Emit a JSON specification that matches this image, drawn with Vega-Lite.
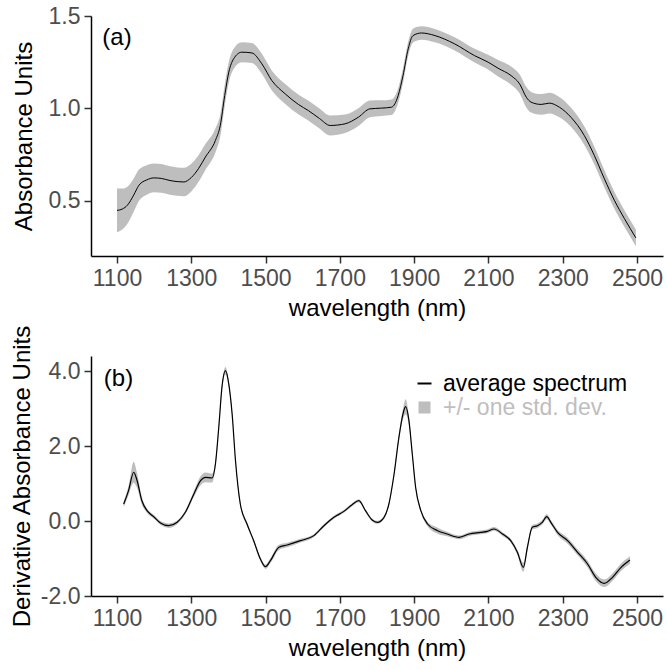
{
  "$schema": "https://vega.github.io/schema/vega-lite/v6.json",
  "padding": {"left": 10, "top": 5, "right": 2, "bottom": 2},
  "background": "white",
  "spacing": 4,
  "config": {
    "view": {"stroke": null},
    "font": "Liberation Sans",
    "axis": {
      "grid": false,
      "domainColor": "black",
      "domainWidth": 1.5,
      "tickColor": "#333333",
      "tickWidth": 1.5,
      "tickSize": 7,
      "labelFont": "Liberation Sans",
      "labelFontSize": 23,
      "labelColor": "#4d4d4d",
      "labelPadding": 4,
      "titleFont": "Liberation Sans",
      "titleFontSize": 24,
      "titleFontWeight": "normal",
      "titleColor": "black"
    }
  },
  "resolve": {"scale": {"color": "independent"}, "legend": {"color": "independent"}},
  "vconcat": [
    {
      "width": 572,
      "height": 240,
      "data": {"values": [
        {"wl": 1100, "mean": 0.447, "lo": 0.329, "hi": 0.565},
        {"wl": 1115, "mean": 0.455, "lo": 0.345, "hi": 0.565},
        {"wl": 1128, "mean": 0.475, "lo": 0.375, "hi": 0.575},
        {"wl": 1145, "mean": 0.530, "lo": 0.440, "hi": 0.620},
        {"wl": 1159, "mean": 0.583, "lo": 0.498, "hi": 0.668},
        {"wl": 1180, "mean": 0.612, "lo": 0.532, "hi": 0.692},
        {"wl": 1199, "mean": 0.623, "lo": 0.545, "hi": 0.701},
        {"wl": 1220, "mean": 0.620, "lo": 0.542, "hi": 0.698},
        {"wl": 1240, "mean": 0.610, "lo": 0.533, "hi": 0.687},
        {"wl": 1262, "mean": 0.603, "lo": 0.526, "hi": 0.680},
        {"wl": 1280, "mean": 0.601, "lo": 0.524, "hi": 0.678},
        {"wl": 1300, "mean": 0.625, "lo": 0.550, "hi": 0.700},
        {"wl": 1320, "mean": 0.675, "lo": 0.603, "hi": 0.747},
        {"wl": 1338, "mean": 0.736, "lo": 0.666, "hi": 0.806},
        {"wl": 1365, "mean": 0.826, "lo": 0.761, "hi": 0.891},
        {"wl": 1378, "mean": 0.907, "lo": 0.847, "hi": 0.967},
        {"wl": 1390, "mean": 1.069, "lo": 1.011, "hi": 1.127},
        {"wl": 1401, "mean": 1.196, "lo": 1.140, "hi": 1.252},
        {"wl": 1414, "mean": 1.268, "lo": 1.213, "hi": 1.323},
        {"wl": 1436, "mean": 1.304, "lo": 1.250, "hi": 1.358},
        {"wl": 1463, "mean": 1.300, "lo": 1.246, "hi": 1.354},
        {"wl": 1490, "mean": 1.241, "lo": 1.187, "hi": 1.295},
        {"wl": 1517, "mean": 1.150, "lo": 1.096, "hi": 1.204},
        {"wl": 1553, "mean": 1.078, "lo": 1.024, "hi": 1.132},
        {"wl": 1589, "mean": 1.020, "lo": 0.966, "hi": 1.074},
        {"wl": 1615, "mean": 0.988, "lo": 0.934, "hi": 1.042},
        {"wl": 1645, "mean": 0.945, "lo": 0.891, "hi": 0.999},
        {"wl": 1674, "mean": 0.907, "lo": 0.853, "hi": 0.961},
        {"wl": 1714, "mean": 0.916, "lo": 0.866, "hi": 0.966},
        {"wl": 1750, "mean": 0.952, "lo": 0.904, "hi": 1.000},
        {"wl": 1781, "mean": 0.997, "lo": 0.952, "hi": 1.042},
        {"wl": 1812, "mean": 1.001, "lo": 0.959, "hi": 1.043},
        {"wl": 1839, "mean": 1.006, "lo": 0.964, "hi": 1.048},
        {"wl": 1857, "mean": 1.069, "lo": 1.029, "hi": 1.109},
        {"wl": 1870, "mean": 1.177, "lo": 1.137, "hi": 1.217},
        {"wl": 1884, "mean": 1.322, "lo": 1.284, "hi": 1.360},
        {"wl": 1897, "mean": 1.394, "lo": 1.357, "hi": 1.431},
        {"wl": 1920, "mean": 1.408, "lo": 1.372, "hi": 1.444},
        {"wl": 1956, "mean": 1.394, "lo": 1.358, "hi": 1.430},
        {"wl": 2009, "mean": 1.349, "lo": 1.313, "hi": 1.385},
        {"wl": 2063, "mean": 1.285, "lo": 1.248, "hi": 1.322},
        {"wl": 2099, "mean": 1.250, "lo": 1.210, "hi": 1.290},
        {"wl": 2126, "mean": 1.217, "lo": 1.172, "hi": 1.262},
        {"wl": 2161, "mean": 1.177, "lo": 1.127, "hi": 1.227},
        {"wl": 2184, "mean": 1.132, "lo": 1.080, "hi": 1.184},
        {"wl": 2202, "mean": 1.060, "lo": 1.005, "hi": 1.115},
        {"wl": 2215, "mean": 1.033, "lo": 0.977, "hi": 1.089},
        {"wl": 2242, "mean": 1.021, "lo": 0.965, "hi": 1.077},
        {"wl": 2264, "mean": 1.028, "lo": 0.972, "hi": 1.084},
        {"wl": 2291, "mean": 1.006, "lo": 0.951, "hi": 1.061},
        {"wl": 2322, "mean": 0.952, "lo": 0.900, "hi": 1.004},
        {"wl": 2358, "mean": 0.853, "lo": 0.803, "hi": 0.903},
        {"wl": 2385, "mean": 0.745, "lo": 0.697, "hi": 0.793},
        {"wl": 2412, "mean": 0.619, "lo": 0.572, "hi": 0.666},
        {"wl": 2439, "mean": 0.502, "lo": 0.456, "hi": 0.548},
        {"wl": 2466, "mean": 0.403, "lo": 0.358, "hi": 0.448},
        {"wl": 2497, "mean": 0.298, "lo": 0.253, "hi": 0.343}
      ]},
      "encoding": {
        "x": {"field": "wl", "type": "quantitative",
              "scale": {"domain": [1030, 2570], "nice": false, "zero": false},
              "axis": {"values": [1100, 1300, 1500, 1700, 1900, 2100, 2300, 2500], "format": "d", "title": "wavelength (nm)", "titlePadding": 6}}
      },
      "layer": [
        {
          "mark": {"type": "area", "color": "#bebebe", "interpolate": "monotone"},
          "encoding": {
            "y": {"field": "lo", "type": "quantitative",
                  "scale": {"domain": [0.2, 1.5], "nice": false, "zero": false},
                  "axis": {"values": [0.5, 1.0, 1.5], "format": ".1f", "title": "Absorbance Units", "titlePadding": 12}},
            "y2": {"field": "hi"}
          }
        },
        {
          "mark": {"type": "line", "color": "black", "strokeWidth": 1, "interpolate": "monotone"},
          "encoding": {
            "y": {"field": "mean", "type": "quantitative",
                  "axis": {"values": [0.5, 1.0, 1.5], "format": ".1f", "title": "Absorbance Units", "titlePadding": 12}}
          }
        },
        {
          "data": {"values": [{"wl": 1100, "v": 1.38, "label": "(a)"}]},
          "mark": {"type": "text", "fontSize": 24, "font": "Liberation Sans", "color": "black", "align": "center", "baseline": "middle"},
          "encoding": {
            "y": {"field": "v", "type": "quantitative",
                  "axis": {"values": [0.5, 1.0, 1.5], "format": ".1f", "title": "Absorbance Units", "titlePadding": 12}},
            "text": {"field": "label"}
          }
        }
      ]
    },
    {
      "width": 572,
      "height": 240,
      "data": {"values": [
        {"wl": 1118, "mean": 0.450, "lo": 0.370, "hi": 0.530},
        {"wl": 1131, "mean": 0.810, "lo": 0.690, "hi": 0.930},
        {"wl": 1145, "mean": 1.300, "lo": 1.020, "hi": 1.580},
        {"wl": 1154, "mean": 1.080, "lo": 0.880, "hi": 1.280},
        {"wl": 1167, "mean": 0.540, "lo": 0.440, "hi": 0.640},
        {"wl": 1181, "mean": 0.275, "lo": 0.215, "hi": 0.335},
        {"wl": 1199, "mean": 0.115, "lo": 0.065, "hi": 0.165},
        {"wl": 1217, "mean": -0.053, "lo": -0.103, "hi": -0.003},
        {"wl": 1239, "mean": -0.125, "lo": -0.185, "hi": -0.065},
        {"wl": 1262, "mean": -0.035, "lo": -0.085, "hi": 0.015},
        {"wl": 1284, "mean": 0.232, "lo": 0.182, "hi": 0.282},
        {"wl": 1307, "mean": 0.720, "lo": 0.640, "hi": 0.800},
        {"wl": 1325, "mean": 1.075, "lo": 0.955, "hi": 1.195},
        {"wl": 1338, "mean": 1.165, "lo": 1.035, "hi": 1.295},
        {"wl": 1356, "mean": 1.147, "lo": 1.027, "hi": 1.267},
        {"wl": 1365, "mean": 1.520, "lo": 1.440, "hi": 1.600},
        {"wl": 1374, "mean": 2.498, "lo": 2.438, "hi": 2.558},
        {"wl": 1383, "mean": 3.610, "lo": 3.530, "hi": 3.690},
        {"wl": 1392, "mean": 4.010, "lo": 3.910, "hi": 4.110},
        {"wl": 1401, "mean": 3.650, "lo": 3.570, "hi": 3.730},
        {"wl": 1410, "mean": 2.850, "lo": 2.790, "hi": 2.910},
        {"wl": 1419, "mean": 1.610, "lo": 1.560, "hi": 1.660},
        {"wl": 1432, "mean": 0.453, "lo": 0.403, "hi": 0.503},
        {"wl": 1450, "mean": -0.080, "lo": -0.130, "hi": -0.030},
        {"wl": 1468, "mean": -0.525, "lo": -0.575, "hi": -0.475},
        {"wl": 1486, "mean": -1.013, "lo": -1.063, "hi": -0.963},
        {"wl": 1500, "mean": -1.218, "lo": -1.278, "hi": -1.158},
        {"wl": 1513, "mean": -1.058, "lo": -1.128, "hi": -0.988},
        {"wl": 1536, "mean": -0.700, "lo": -0.770, "hi": -0.630},
        {"wl": 1558, "mean": -0.640, "lo": -0.700, "hi": -0.580},
        {"wl": 1594, "mean": -0.525, "lo": -0.575, "hi": -0.475},
        {"wl": 1630, "mean": -0.390, "lo": -0.430, "hi": -0.350},
        {"wl": 1657, "mean": -0.125, "lo": -0.165, "hi": -0.085},
        {"wl": 1684, "mean": 0.098, "lo": 0.058, "hi": 0.138},
        {"wl": 1711, "mean": 0.257, "lo": 0.217, "hi": 0.297},
        {"wl": 1733, "mean": 0.435, "lo": 0.395, "hi": 0.475},
        {"wl": 1751, "mean": 0.542, "lo": 0.502, "hi": 0.582},
        {"wl": 1769, "mean": 0.275, "lo": 0.235, "hi": 0.315},
        {"wl": 1787, "mean": 0.027, "lo": -0.013, "hi": 0.067},
        {"wl": 1801, "mean": -0.035, "lo": -0.075, "hi": 0.005},
        {"wl": 1819, "mean": 0.098, "lo": 0.058, "hi": 0.138},
        {"wl": 1832, "mean": 0.453, "lo": 0.403, "hi": 0.503},
        {"wl": 1846, "mean": 1.253, "lo": 1.193, "hi": 1.313},
        {"wl": 1859, "mean": 2.232, "lo": 2.152, "hi": 2.312},
        {"wl": 1871, "mean": 2.898, "lo": 2.748, "hi": 3.048},
        {"wl": 1877, "mean": 3.048, "lo": 2.848, "hi": 3.248},
        {"wl": 1886, "mean": 2.675, "lo": 2.555, "hi": 2.795},
        {"wl": 1895, "mean": 1.787, "lo": 1.717, "hi": 1.857},
        {"wl": 1904, "mean": 0.898, "lo": 0.848, "hi": 0.948},
        {"wl": 1918, "mean": 0.275, "lo": 0.225, "hi": 0.325},
        {"wl": 1936, "mean": -0.080, "lo": -0.140, "hi": -0.020},
        {"wl": 1963, "mean": -0.258, "lo": -0.338, "hi": -0.178},
        {"wl": 1989, "mean": -0.347, "lo": -0.407, "hi": -0.287},
        {"wl": 2021, "mean": -0.435, "lo": -0.485, "hi": -0.385},
        {"wl": 2048, "mean": -0.347, "lo": -0.397, "hi": -0.297},
        {"wl": 2079, "mean": -0.302, "lo": -0.352, "hi": -0.252},
        {"wl": 2097, "mean": -0.275, "lo": -0.325, "hi": -0.225},
        {"wl": 2115, "mean": -0.213, "lo": -0.263, "hi": -0.163},
        {"wl": 2138, "mean": -0.347, "lo": -0.397, "hi": -0.297},
        {"wl": 2160, "mean": -0.525, "lo": -0.575, "hi": -0.475},
        {"wl": 2178, "mean": -0.835, "lo": -0.905, "hi": -0.765},
        {"wl": 2194, "mean": -1.235, "lo": -1.355, "hi": -1.115},
        {"wl": 2205, "mean": -0.700, "lo": -0.780, "hi": -0.620},
        {"wl": 2218, "mean": -0.168, "lo": -0.228, "hi": -0.108},
        {"wl": 2232, "mean": -0.125, "lo": -0.185, "hi": -0.065},
        {"wl": 2245, "mean": -0.035, "lo": -0.095, "hi": 0.025},
        {"wl": 2257, "mean": 0.115, "lo": 0.045, "hi": 0.185},
        {"wl": 2268, "mean": -0.035, "lo": -0.095, "hi": 0.025},
        {"wl": 2286, "mean": -0.302, "lo": -0.372, "hi": -0.232},
        {"wl": 2313, "mean": -0.525, "lo": -0.605, "hi": -0.445},
        {"wl": 2340, "mean": -0.835, "lo": -0.915, "hi": -0.755},
        {"wl": 2367, "mean": -1.147, "lo": -1.237, "hi": -1.057},
        {"wl": 2389, "mean": -1.502, "lo": -1.602, "hi": -1.402},
        {"wl": 2412, "mean": -1.662, "lo": -1.762, "hi": -1.562},
        {"wl": 2434, "mean": -1.502, "lo": -1.602, "hi": -1.402},
        {"wl": 2457, "mean": -1.235, "lo": -1.335, "hi": -1.135},
        {"wl": 2481, "mean": -1.040, "lo": -1.140, "hi": -0.940}
      ]},
      "encoding": {
        "x": {"field": "wl", "type": "quantitative",
              "scale": {"domain": [1030, 2570], "nice": false, "zero": false},
              "axis": {"values": [1100, 1300, 1500, 1700, 1900, 2100, 2300, 2500], "format": "d", "title": "wavelength (nm)", "titlePadding": 6}}
      },
      "layer": [
        {
          "mark": {"type": "area", "interpolate": "monotone"},
          "encoding": {
            "y": {"field": "lo", "type": "quantitative",
                  "scale": {"domain": [-2, 4.4], "nice": false, "zero": false},
                  "axis": {"values": [-2, 0, 2, 4], "labelExpr": "replace(format(datum.value, '.1f'), '\u2212', '-')", "title": "Derivative Absorbance Units", "titlePadding": 6}},
            "y2": {"field": "hi"},
            "color": {"datum": "+/- one std. dev.", "type": "nominal",
                      "scale": {"domain": ["average spectrum", "+/- one std. dev."], "range": ["black", "#bebebe"]},
                      "legend": {
                        "orient": "none", "legendX": 322, "legendY": 16, "title": null,
                        "labelFont": "Liberation Sans", "labelFontSize": 23, "labelOffset": 7, "rowPadding": 0,
                        "labelLimit": 400,
                        "symbolSize": 150,
                        "encode": {
                          "symbols": {"update": {
                            "shape": {"signal": "datum.value === 'average spectrum' ? 'stroke' : 'square'"},
                            "size": {"signal": "datum.value === 'average spectrum' ? 196 : 100"},
                            "stroke": {"signal": "datum.value === 'average spectrum' ? 'black' : 'transparent'"},
                            "fill": {"signal": "datum.value === 'average spectrum' ? 'transparent' : '#bebebe'"},
                            "strokeWidth": {"value": 2},
                            "opacity": {"value": 1}
                          }},
                          "labels": {"update": {
                            "fill": {"signal": "datum.value === 'average spectrum' ? 'black' : '#bebebe'"}
                          }}
                        }
                      }}
          }
        },
        {
          "mark": {"type": "line", "strokeWidth": 1.2, "interpolate": "monotone"},
          "encoding": {
            "y": {"field": "mean", "type": "quantitative",
                  "axis": {"values": [-2, 0, 2, 4], "labelExpr": "replace(format(datum.value, '.1f'), '\u2212', '-')", "title": "Derivative Absorbance Units", "titlePadding": 6}},
            "color": {"datum": "average spectrum", "type": "nominal"}
          }
        },
        {
          "data": {"values": [{"wl": 1104, "v": 3.8, "label": "(b)"}]},
          "mark": {"type": "text", "fontSize": 24, "font": "Liberation Sans", "color": "black", "align": "center", "baseline": "middle"},
          "encoding": {
            "y": {"field": "v", "type": "quantitative",
                  "axis": {"values": [-2, 0, 2, 4], "labelExpr": "replace(format(datum.value, '.1f'), '\u2212', '-')", "title": "Derivative Absorbance Units", "titlePadding": 6}},
            "text": {"field": "label"}
          }
        }
      ]
    }
  ]
}
